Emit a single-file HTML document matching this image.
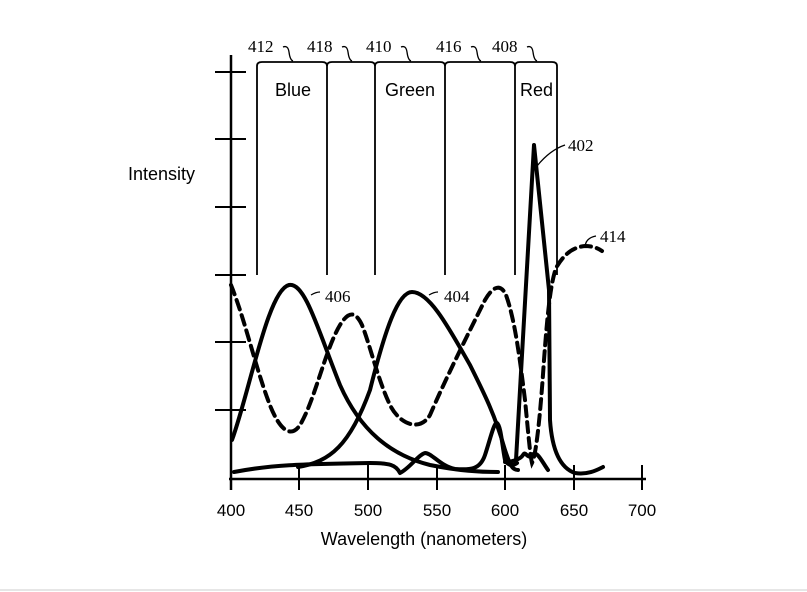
<!DOCTYPE html>
<html><head><style>
html,body{margin:0;padding:0;background:#fff;}
svg{display:block;}
.s{font-family:"Liberation Sans",sans-serif;}
.t{font-family:"Liberation Serif",serif;}
</style></head><body>
<svg width="807" height="592" viewBox="0 0 807 592" xmlns="http://www.w3.org/2000/svg">
<rect width="807" height="592" fill="#fff"/>
<g stroke="#000" fill="none">
<line x1="231" y1="55" x2="231" y2="490" stroke-width="2.5"/>
<line x1="229" y1="479" x2="646" y2="479" stroke-width="2.5"/>
<g stroke-width="2">
<line x1="215" y1="72" x2="246" y2="72"/>
<line x1="215" y1="139" x2="246" y2="139"/>
<line x1="215" y1="207" x2="246" y2="207"/>
<line x1="215" y1="275" x2="246" y2="275"/>
<line x1="215" y1="342" x2="246" y2="342"/>
<line x1="215" y1="410" x2="246" y2="410"/>
<line x1="299" y1="465" x2="299" y2="490"/>
<line x1="368" y1="465" x2="368" y2="490"/>
<line x1="437" y1="465" x2="437" y2="490"/>
<line x1="505" y1="465" x2="505" y2="490"/>
<line x1="574" y1="465" x2="574" y2="490"/>
<line x1="642" y1="465" x2="642" y2="490"/>
</g>
<g stroke-width="1.8">
<path d="M257 275 V66 Q257 62 262 62 H322 Q327 62 327 66 V275"/>
<path d="M327 66 Q327 62 332 62 H370 Q375 62 375 66 V275"/>
<path d="M375 66 Q375 62 380 62 H440 Q445 62 445 66 V275"/>
<path d="M445 66 Q445 62 450 62 H510 Q515 62 515 66 V275"/>
<path d="M515 66 Q515 62 520 62 H552 Q557 62 557 66 V275"/>
</g>
<g stroke-width="1.3">
<path d="M283 47 Q288 45 289 52 Q290 60 293 61"/>
<path d="M342 47 Q347 45 348 52 Q349 60 352 61"/>
<path d="M401 47 Q406 45 407 52 Q408 60 411 61"/>
<path d="M471 47 Q476 45 477 52 Q478 60 481 61"/>
<path d="M527 47 Q532 45 533 52 Q534 60 537 61"/>
<path d="M537 166 Q550 150 565 145"/>
<path d="M311 295 Q316 292 320 292"/>
<path d="M429 295 Q434 292 438 292"/>
<path d="M585 248 Q585 238 596 236"/>
</g>
<g stroke-width="4" stroke-linecap="round" stroke-linejoin="round">
<path d="M232 440 C250 390 268 290 289 285 C305 282 318 330 340 385 C360 430 390 455 430 465 C460 471 480 472 498 472"/>
<path d="M298 467 C330 462 350 445 370 390 C385 330 398 292 412 292 C430 292 450 330 470 365 C485 395 495 415 505 450 C510 465 512 470 518 470"/>
<path d="M234 472 C270 465 300 464 370 463 C390 463 396 465 400 473 C410 468 418 455 425 453 C432 453 440 466 455 469 C470 470 480 470 485 455 C490 440 494 422 497 423 C501 426 502 445 505 460 C508 466 513 466 517 463"/>
<path d="M505 462 C510 462 520 460 523 455 C526 450 527 460 532 455 C537 450 541 460 548 470"/>
<path d="M516 460 L534 145 L549 290 L550 420 C552 450 560 468 575 473 C588 475 597 470 603 467"/>
</g>
<path stroke-width="4" stroke-dasharray="10 6" stroke-linecap="round" d="M231 285 C245 320 255 365 268 400 C278 428 290 440 300 425 C315 400 325 350 340 325 C348 312 355 310 362 325 C370 345 378 380 390 405 C400 425 420 432 430 415 C445 380 470 330 485 300 C492 288 500 282 506 295 C515 320 520 360 525 400 C528 430 530 455 532 463 C536 455 540 420 544 360 C547 320 550 285 556 268 C565 252 575 247 585 246 C592 246 598 248 602 251"/>
</g>
<g class="s" font-size="18" fill="#000">
<text x="275" y="96">Blue</text>
<text x="385" y="96">Green</text>
<text x="520" y="96">Red</text>
<text x="128" y="180">Intensity</text>
<g text-anchor="middle" font-size="17">
<text x="231" y="516">400</text><text x="299" y="516">450</text><text x="368" y="516">500</text>
<text x="437" y="516">550</text><text x="505" y="516">600</text><text x="574" y="516">650</text>
<text x="642" y="516">700</text>
</g>
<text x="424" y="545" text-anchor="middle">Wavelength (nanometers)</text>
</g>
<g class="t" font-size="17" fill="#000">
<text x="248" y="52">412</text><text x="307" y="52">418</text><text x="366" y="52">410</text>
<text x="436" y="52">416</text><text x="492" y="52">408</text>
<text x="568" y="151">402</text><text x="325" y="302">406</text><text x="444" y="302">404</text>
<text x="600" y="242">414</text>
</g>
<line x1="0" y1="590" x2="807" y2="590" stroke="#e6e6e6" stroke-width="2"/>
</svg>
</body></html>
